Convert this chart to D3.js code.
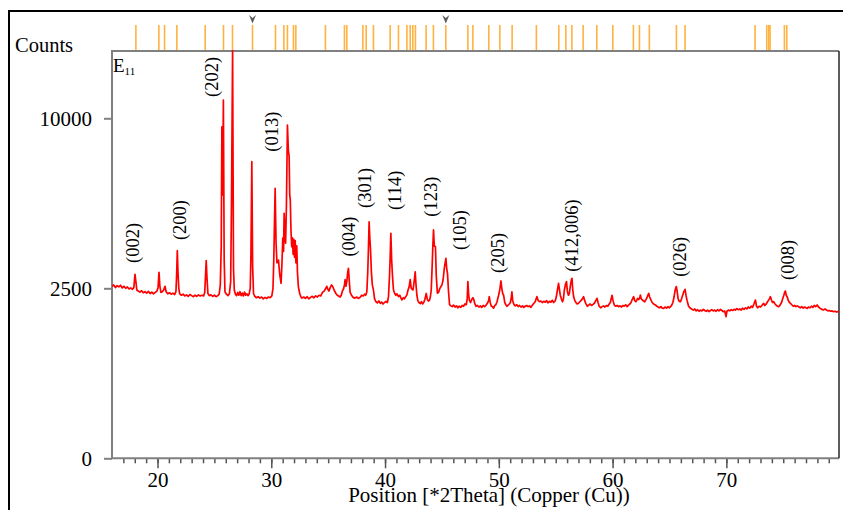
<!DOCTYPE html>
<html>
<head>
<meta charset="utf-8">
<script src="https://cdn.jsdelivr.net/npm/d3@7"></script>
<style>
  body { margin: 0; background: #fff; }
  svg { display: block; }
  text { font-family: "Liberation Serif", "Times New Roman", serif; fill: #000; }
</style>
</head>
<body>
<svg id="chart" width="843" height="510"></svg>
<script>
// XRD scan of sample E11: [2theta, counts]
const scan = [
  [16.00,2560],[16.15,2600],[16.3,2520],[16.45,2580],[16.6,2540],[16.75,2590],[16.9,2510],[17.05,2560],[17.2,2500],[17.35,2540],
  [17.5,2480],[17.65,2510],[17.8,2470],[17.92,2520],[18.02,2930],[18.1,2700],[18.18,2450],[18.3,2420],[18.45,2390],[18.6,2430],
  [18.75,2370],[18.9,2400],[19.05,2360],[19.2,2410],[19.35,2350],[19.5,2390],[19.65,2340],[19.8,2380],[19.95,2420],[20.05,2520],
  [20.13,2990],[20.21,2560],[20.3,2380],[20.42,2400],[20.55,2460],[20.66,2560],[20.76,2400],[20.9,2340],[21.05,2370],[21.2,2330],
  [21.35,2360],[21.5,2320],[21.62,2400],[21.68,2900],[21.74,3730],[21.8,3000],[21.87,2500],[21.95,2340],[22.1,2300],[22.25,2330],
  [22.4,2280],[22.55,2310],[22.7,2270],[22.85,2320],[23.0,2290],[23.15,2260],[23.3,2300],[23.45,2270],[23.6,2310],[23.75,2280],
  [23.9,2300],[24.05,2280],[24.15,2380],[24.22,2900],[24.28,3380],[24.35,2800],[24.43,2350],[24.55,2290],[24.7,2310],[24.85,2270],
  [25.0,2300],[25.15,2260],[25.3,2290],[25.42,2330],[25.52,2600],[25.6,3870],[25.66,9500],[25.72,6000],[25.79,11100],[25.86,3400],
  [25.93,2400],[26.05,2330],[26.2,2290],[26.32,2340],[26.43,2700],[26.5,5480],[26.6,14400],[26.68,3100],[26.75,2450],[26.85,2330],
  [26.95,2290],[27.05,2380],[27.15,2300],[27.25,2400],[27.35,2290],[27.45,2360],[27.55,2280],[27.65,2390],[27.75,2300],[27.85,2340],
  [27.95,2290],[28.05,2330],[28.15,2500],[28.21,3520],[28.29,7610],[28.36,3200],[28.44,2350],[28.55,2270],[28.7,2230],[28.85,2260],
  [29.0,2220],[29.15,2250],[29.3,2200],[29.45,2240],[29.6,2210],[29.75,2250],[29.9,2230],[30.05,2280],[30.15,2500],[30.22,3400],
  [30.28,4780],[30.34,6300],[30.42,4000],[30.5,3300],[30.63,3400],[30.75,2900],[30.86,2650],[30.94,3300],[31.01,4190],[31.08,3700],
  [31.13,5190],[31.2,4300],[31.26,4000],[31.33,5500],[31.42,9610],[31.5,8200],[31.57,7870],[31.62,6000],[31.67,5780],[31.73,4500],
  [31.8,3870],[31.86,4200],[31.92,3600],[31.98,4150],[32.04,3500],[32.1,4100],[32.17,3300],[32.24,3900],[32.3,3000],[32.38,2550],
  [32.5,2350],[32.6,2260],[32.7,2220],[32.85,2250],[33.0,2210],[33.15,2260],[33.3,2200],[33.45,2240],[33.6,2270],[33.75,2230],
  [33.9,2280],[34.05,2250],[34.2,2300],[34.35,2280],[34.5,2380],[34.65,2420],[34.8,2500],[34.88,2560],[34.97,2470],[35.07,2420],
  [35.18,2520],[35.3,2600],[35.42,2540],[35.55,2430],[35.68,2350],[35.8,2300],[35.95,2270],[36.05,2250],[36.15,2300],[36.25,2420],
  [36.35,2480],[36.43,2600],[36.49,2760],[36.56,2560],[36.64,2700],[36.72,3000],[36.78,3120],[36.86,2700],[36.93,2380],[37.05,2300],
  [37.2,2240],[37.35,2220],[37.5,2250],[37.65,2210],[37.8,2240],[37.95,2300],[38.08,2280],[38.2,2330],[38.3,2300],[38.4,2400],
  [38.48,3000],[38.54,3800],[38.6,4840],[38.66,4200],[38.72,3800],[38.8,3000],[38.88,2600],[38.98,2450],[39.08,2200],[39.2,2120],
  [39.32,2090],[39.45,2140],[39.58,2080],[39.7,2110],[39.82,2060],[39.95,2100],[40.08,2130],[40.2,2100],[40.3,2250],[40.39,2850],
  [40.45,3500],[40.51,4380],[40.58,3400],[40.65,2900],[40.74,2450],[40.85,2350],[40.95,2300],[41.05,2340],[41.18,2260],[41.3,2300],
  [41.4,2220],[41.48,2170],[41.6,2230],[41.7,2200],[41.82,2260],[41.92,2310],[42.02,2450],[42.12,2550],[42.21,2760],[42.3,2500],
  [42.38,2480],[42.45,2450],[42.52,2600],[42.59,2800],[42.65,3010],[42.72,2600],[42.8,2300],[42.88,2150],[42.98,2100],[43.1,2070],
  [43.2,2120],[43.3,2060],[43.4,2100],[43.5,2180],[43.62,2350],[43.72,2180],[43.82,2140],[43.92,2170],[43.98,2250],[44.06,2450],
  [44.14,3200],[44.2,3900],[44.26,4510],[44.33,3900],[44.43,3870],[44.5,2900],[44.6,2360],[44.7,2380],[44.8,2480],[44.9,2550],
  [45.0,2600],[45.1,2750],[45.2,3100],[45.28,3300],[45.35,3460],[45.42,3100],[45.49,2950],[45.58,2400],[45.67,2040],[45.78,2010],
  [45.9,1990],[46.02,2030],[46.15,1980],[46.28,2010],[46.4,1960],[46.52,2000],[46.65,1970],[46.78,2020],[46.9,2000],[47.02,2060],
  [47.14,2040],[47.22,2200],[47.28,2700],[47.35,2300],[47.42,2150],[47.52,2100],[47.62,2180],[47.72,2230],[47.8,2180],[47.9,2060],
  [48.0,2000],[48.12,2020],[48.25,1980],[48.38,2010],[48.5,1970],[48.62,2020],[48.75,1990],[48.88,2030],[49.0,2080],[49.1,2150],
  [49.16,2260],[49.24,2100],[49.34,2000],[49.44,1990],[49.54,1950],[49.64,2020],[49.74,2040],[49.84,2120],[49.98,2300],[50.08,2450],
  [50.14,2600],[50.19,2720],[50.26,2500],[50.34,2350],[50.42,2300],[50.52,2100],[50.62,2040],[50.71,2000],[50.82,2030],[50.92,2060],
  [51.02,2100],[51.1,2250],[51.15,2400],[51.22,2150],[51.32,2050],[51.45,2010],[51.58,2040],[51.7,1990],[51.82,2020],[51.95,1980],
  [52.08,2010],[52.2,1970],[52.32,2000],[52.45,2020],[52.58,1990],[52.7,2010],[52.82,1970],[52.95,2030],[53.08,2080],[53.2,2120],
  [53.28,2200],[53.35,2260],[53.45,2160],[53.58,2120],[53.7,2140],[53.82,2100],[53.95,2130],[54.08,2110],[54.2,2150],[54.32,2090],
  [54.45,2130],[54.58,2110],[54.7,2160],[54.82,2100],[54.95,2140],[55.05,2250],[55.15,2450],[55.25,2650],[55.32,2480],[55.4,2300],
  [55.5,2200],[55.6,2120],[55.68,2200],[55.76,2450],[55.86,2620],[55.95,2700],[56.03,2400],[56.12,2300],[56.2,2350],[56.3,2600],
  [56.38,2760],[56.43,2800],[56.5,2450],[56.58,2250],[56.68,2150],[56.78,2100],[56.88,2060],[57.0,2080],[57.12,2120],[57.22,2150],
  [57.35,2200],[57.45,2260],[57.55,2150],[57.65,2070],[57.78,2000],[57.9,2030],[58.02,2060],[58.15,2020],[58.28,2050],[58.4,2080],
  [58.52,2150],[58.63,2215],[58.72,2100],[58.82,2000],[58.95,1960],[59.08,1990],[59.2,2010],[59.32,1980],[59.45,2020],[59.58,2000],
  [59.7,2060],[59.8,2100],[59.88,2200],[59.95,2300],[60.04,2150],[60.15,2030],[60.28,2000],[60.4,2020],[60.52,1990],[60.65,2010],
  [60.78,1980],[60.9,2020],[61.02,2000],[61.15,2040],[61.28,1990],[61.4,2030],[61.52,2060],[61.62,2100],[61.72,2180],[61.85,2260],
  [61.95,2150],[62.05,2120],[62.12,2160],[62.2,2215],[62.3,2180],[62.38,2220],[62.44,2307],[62.52,2200],[62.62,2170],[62.72,2140],
  [62.82,2120],[62.92,2170],[63.02,2230],[63.1,2300],[63.17,2355],[63.26,2250],[63.36,2180],[63.48,2100],[63.6,2060],[63.76,2033],
  [63.88,2000],[64.0,1980],[64.12,1960],[64.25,1990],[64.37,1950],[64.49,1946],[64.62,1980],[64.75,1950],[64.88,1990],[65.0,1960],
  [65.1,1990],[65.2,2030],[65.3,2100],[65.4,2250],[65.5,2450],[65.6,2550],[65.68,2400],[65.76,2200],[65.86,2130],[65.96,2120],
  [66.06,2200],[66.16,2300],[66.26,2400],[66.37,2470],[66.45,2300],[66.55,2150],[66.68,2000],[66.84,1946],[66.98,1920],[67.1,1900],
  [67.22,1930],[67.35,1880],[67.48,1910],[67.6,1870],[67.72,1900],[67.85,1880],[67.98,1920],[68.1,1890],[68.22,1870],[68.35,1900],
  [68.48,1860],[68.6,1890],[68.72,1910],[68.85,1880],[68.98,1900],[69.1,1870],[69.22,1910],[69.35,1880],[69.48,1920],[69.6,1890],
  [69.72,1860],[69.85,1880],[69.97,1735],[70.05,1870],[70.18,1900],[70.3,1880],[70.42,1910],[70.55,1890],[70.68,1920],[70.8,1900],
  [70.92,1940],[71.05,1910],[71.18,1930],[71.3,1900],[71.42,1950],[71.55,1920],[71.68,1960],[71.8,1930],[71.92,1980],[72.05,1950],
  [72.18,2000],[72.3,1970],[72.42,2060],[72.55,2167],[72.65,2000],[72.75,1960],[72.88,2000],[73.0,1980],[73.12,2020],[73.2,2050],
  [73.28,2078],[73.38,2020],[73.48,2050],[73.58,2100],[73.68,2150],[73.78,2200],[73.87,2260],[73.95,2180],[74.05,2100],[74.16,2120],
  [74.28,2060],[74.4,2020],[74.5,2000],[74.6,1990],[74.72,2030],[74.85,2100],[74.95,2200],[75.05,2300],[75.12,2380],[75.19,2420],
  [75.26,2300],[75.35,2250],[75.45,2150],[75.55,2100],[75.63,2078],[75.75,2040],[75.88,2000],[76.0,2020],[76.12,1990],[76.24,2010],
  [76.36,1988],[76.5,1960],[76.62,1990],[76.75,1950],[76.88,1980],[77.0,1960],[77.1,1946],[77.22,1980],[77.35,1960],[77.48,2000],
  [77.6,1970],[77.72,2020],[77.85,1990],[77.98,2033],[78.1,1980],[78.22,1950],[78.35,1930],[78.45,1910],[78.56,1905],[78.68,1930],
  [78.8,1900],[78.92,1880],[79.05,1890],[79.18,1870],[79.3,1880],[79.42,1860],[79.55,1870],[79.68,1850],[79.79,1860],[79.9,1860]
];

// reference pattern lines shown in the strip above the plot
const refLines = [18.10, 20.12, 20.62, 21.70, 24.19, 25.80, 26.59, 28.35, 30.37, 31.11, 31.42, 31.95, 32.16,
  34.76, 36.43, 36.64, 38.05, 38.34, 38.98, 40.45, 41.18, 41.92, 42.21, 42.44, 42.67, 43.61, 44.25, 45.34,
  47.28, 47.72, 49.12, 50.09, 51.17, 53.30, 55.27, 55.89, 56.42, 57.41, 58.61, 60.02, 61.83, 62.36, 63.23,
  65.61, 66.37, 72.52, 73.55, 73.73, 73.84, 75.10, 75.31];
const refMarks = [28.35, 45.34];

// hkl annotations: text, 2theta, counts level where the text starts
const hklText = ["(002)", "(200)", "(202)", "(013)", "(004)", "(301)", "(114)", "(123)", "(105)", "(205)", "(412,006)", "(026)", "(008)"];
const hklTheta = [17.8, 21.94, 24.77, 30.05, 36.76, 38.16, 40.8, 44.01, 46.52, 49.9, 56.37, 65.87, 75.41];
const hklCounts = [3300, 4120, 11300, 8130, 3520, 5420, 5330, 5050, 3750, 2970, 3010, 2850, 2750];

const yTicks = [0, 2500, 10000];
const xTicks = [20, 30, 40, 50, 60, 70];
const xMinor = d3.range(17, 80);

const svg = d3.select("#chart"),
  plot = { left: 112, top: 51, right: 839, bottom: 458.3 };

const x = d3.scaleLinear().domain([16, 79.9]).range([plot.left, plot.right]);
const y = d3.scaleSqrt().domain([0, 14400]).range([plot.bottom, 50.3]);

// outer black frame
svg.append("rect")
  .attr("x", 9).attr("y", 11)
  .attr("width", 900).attr("height", 600)
  .attr("fill", "none").attr("stroke", "#000").attr("stroke-width", 2);

svg.append("defs").append("clipPath").attr("id", "plotclip")
  .append("rect")
  .attr("x", plot.left).attr("y", plot.top - 1)
  .attr("width", plot.right - plot.left).attr("height", plot.bottom - plot.top + 1);

// reference strip
svg.append("g")
  .selectAll("line")
  .data(refLines)
  .enter().append("line")
  .attr("x1", d => x(d)).attr("x2", d => x(d))
  .attr("y1", 25).attr("y2", plot.top)
  .attr("stroke", "#ffb23f").attr("stroke-width", 1.6);

svg.append("g")
  .selectAll("path")
  .data(refMarks)
  .enter().append("path")
  .attr("d", d => `M${x(d) - 3.5},15 L${x(d)},23.5 L${x(d) + 3.5},15 L${x(d)},18 Z`)
  .attr("fill", "#5a5a5a");

// y axis (square-root counts)
const gy = svg.append("g")
  .attr("transform", `translate(${plot.left},0)`)
  .call(d3.axisLeft(y).tickValues(yTicks).tickSize(8).tickPadding(12).tickFormat(d3.format("d")));
gy.select(".domain").remove();
gy.selectAll(".tick line").attr("stroke", "#808080").attr("stroke-width", 2);
gy.selectAll(".tick text").attr("font-size", 21).attr("font-family", "Liberation Serif").attr("fill", "#000");

// x axis, minor then major ticks
const gxMinor = svg.append("g")
  .attr("transform", `translate(0,${plot.bottom})`)
  .call(d3.axisBottom(x).tickValues(xMinor).tickSize(5).tickFormat(""));
gxMinor.select(".domain").remove();
gxMinor.selectAll(".tick line").attr("stroke", "#555").attr("stroke-width", 1.5);

const gx = svg.append("g")
  .attr("transform", `translate(0,${plot.bottom})`)
  .call(d3.axisBottom(x).tickValues(xTicks).tickSize(10).tickPadding(4));
gx.select(".domain").remove();
gx.selectAll(".tick line").attr("stroke", "#555").attr("stroke-width", 1.5);
gx.selectAll(".tick text").attr("font-size", 21).attr("font-family", "Liberation Serif").attr("fill", "#000");

// plot frame
const frame = svg.append("g").attr("fill", "none");
frame.append("path")
  .attr("d", `M${plot.right},${plot.top} H${plot.left} V${plot.bottom} H${plot.right}`)
  .attr("stroke", "#808080").attr("stroke-width", 2);
frame.append("line")
  .attr("x1", plot.right).attr("x2", plot.right)
  .attr("y1", plot.top).attr("y2", plot.bottom)
  .attr("stroke", "#333").attr("stroke-width", 1.6);

// diffraction pattern
const line = d3.line()
  .x(function(d) { return x(d[0]); })
  .y(function(d) { return y(d[1]); });

svg.append("path")
  .datum(scan)
  .attr("clip-path", "url(#plotclip)")
  .attr("fill", "none")
  .attr("stroke", "#ff0000")
  .attr("stroke-width", 1.7)
  .attr("stroke-linejoin", "round")
  .attr("d", line);

// hkl labels
svg.append("g")
  .selectAll("text")
  .data(hklText)
  .enter().append("text")
  .attr("transform", (d, i) => `translate(${x(hklTheta[i])},${y(hklCounts[i])}) rotate(-90)`)
  .attr("dy", "0.35em")
  .attr("font-size", 18.5)
  .text(d => d);

// sample name
const e11 = svg.append("text").attr("x", 113).attr("y", 72).attr("font-size", 19);
e11.append("tspan").text("E");
e11.append("tspan").attr("font-size", 11).attr("dy", 2.5).text("11");

svg.append("text")
  .attr("x", 15).attr("y", 52)
  .attr("font-size", 20.5)
  .text("Counts");

// x title sits on a white box that hides the lower edge of the tick labels
const titleBox = svg.append("rect").attr("fill", "#fff");
const title = svg.append("text")
  .attr("x", 489).attr("y", 501.5)
  .attr("text-anchor", "middle")
  .attr("font-size", 21)
  .text("Position [*2Theta] (Copper (Cu))");
const bb = title.node().getBBox();
titleBox
  .attr("x", bb.x - 1).attr("y", 487.5)
  .attr("width", bb.width + 2).attr("height", 30);
</script>
</body>
</html>
